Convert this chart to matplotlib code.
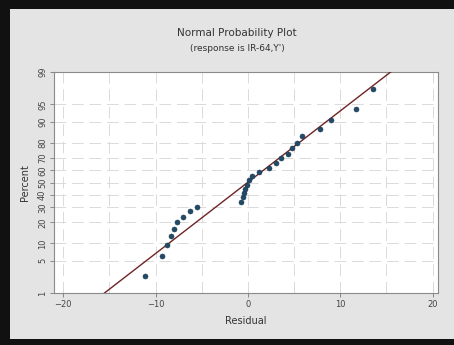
from statistics import NormalDist

import matplotlib
matplotlib.use("Agg")
import matplotlib.pyplot as plt
import numpy as np
from matplotlib.patches import Rectangle

# Sorted residuals and their median-rank plotting positions (percent)
residuals = [
    -11.2, -9.3, -8.8, -8.3, -8.0, -7.7, -7.0, -6.3, -5.5,
    -0.7, -0.5, -0.4, -0.3, -0.1, 0.1, 0.4,
    1.2, 2.3, 3.0, 3.6, 4.3, 4.8, 5.3, 5.9, 7.8, 9.0, 11.7, 13.6,
]
percents = [
    2.46, 5.99, 9.51, 13.03, 16.55, 20.07, 23.59, 27.11, 30.63,
    34.15, 37.68, 41.20, 44.72, 48.24, 51.76, 55.28,
    58.80, 62.32, 65.85, 69.37, 72.89, 76.41, 79.93, 83.45, 86.97,
    90.49, 94.01, 97.54,
]
pct_ticks = [1, 5, 10, 20, 30, 40, 50, 60, 70, 80, 90, 95, 99]
x_ticks = [-20, -10, 0, 10, 20]

STD = NormalDist()
_ppf = np.vectorize(lambda p: STD.inv_cdf(min(max(p / 100.0, 1e-9), 1 - 1e-9)),
                    otypes=[float])
_cdf = np.vectorize(lambda z: STD.cdf(z) * 100.0, otypes=[float])


def prob_forward(p):
    return _ppf(np.asarray(p, dtype=float))


def prob_inverse(z):
    return _cdf(np.asarray(z, dtype=float))


fig = plt.figure(figsize=(4.54, 3.45), dpi=100)
fig.patch.set_facecolor("#e4e4e4")

# dark frame on the top, left and bottom edges
for rect in [(0, 0.974, 1, 0.026), (0, 0, 0.022, 1), (0, 0, 1, 0.017)]:
    fig.patches.append(Rectangle(rect[:2], rect[2], rect[3], transform=fig.transFigure,
                                 facecolor="#111111", edgecolor="none", zorder=0))

ax = fig.add_axes([0.119, 0.1507, 0.846, 0.6406])
ax.set_facecolor("white")
ax.set_yscale("function", functions=(prob_forward, prob_inverse))
ax.set_ylim(1, 99)
ax.set_xlim(-21, 20.6)

# grid: every 5 on x, each labelled percent on y
ax.set_xticks(x_ticks)
ax.set_xticks(np.arange(-15, 20, 10), minor=True)
ax.set_yticks(pct_ticks)
ax.set_yticklabels([str(t) for t in pct_ticks], rotation=90, va="center")
ax.yaxis.set_minor_locator(matplotlib.ticker.NullLocator())
ax.grid(True, which="both", color="#dadada", lw=0.7, linestyle=(0, (12, 6)))
ax.set_axisbelow(True)

ax.tick_params(axis="both", which="both", labelsize=6, colors="#777777",
               labelcolor="#444444", length=3, width=0.6, pad=2)
ax.tick_params(axis="x", which="minor", length=0)
for sp in ax.spines.values():
    sp.set_color("#8a8a8a")
    sp.set_linewidth(0.8)

# fitted normal line from the sample mean and standard deviation
res = np.array(residuals)
mu, sigma = res.mean(), res.std(ddof=1)
zz = np.linspace(-3, 3, 200)
ax.plot(mu + sigma * zz, _cdf(zz), color="#6e2424", lw=1.0, zorder=3)

ax.plot(residuals, percents, "o", ms=3.6, color="#224a66", mec="#1a3a52",
        mew=0.4, zorder=4)

ax.set_xlabel("Residual", fontsize=7, color="#333333", labelpad=5)
ax.set_ylabel("Percent", fontsize=7, color="#333333", labelpad=6)
fig.text(0.522, 0.905, "Normal Probability Plot", ha="center", va="center",
         fontsize=7.5, color="#333333")
fig.text(0.522, 0.86, "(response is IR-64,Y')", ha="center", va="center",
         fontsize=6.5, color="#333333")

fig.savefig("out.png", dpi=100, facecolor=fig.get_facecolor())
